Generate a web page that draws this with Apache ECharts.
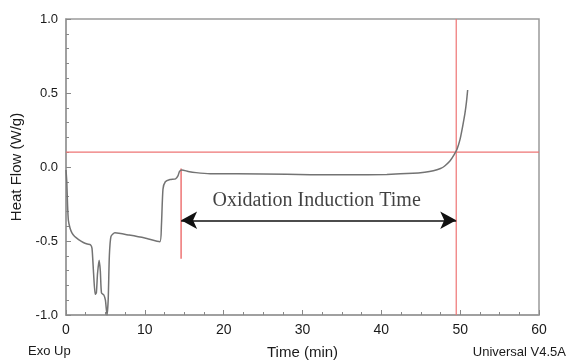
<!DOCTYPE html>
<html>
<head>
<meta charset="utf-8">
<script src="https://cdn.jsdelivr.net/npm/echarts@6/dist/echarts.min.js"></script>
<style>
  html, body { margin: 0; padding: 0; background: #fff; }
  #chart { width: 568px; height: 361px; }
</style>
</head>
<body>
<div id="chart"></div>
<script>
// DSC isothermal oxidation trace: time (min) vs heat flow (W/g)
const heatFlow = [
  [0, -0.02], [0.1, -0.1], [0.2, -0.26], [0.3, -0.36], [0.5, -0.41], [0.75, -0.445],
  [1.1, -0.47], [1.6, -0.49], [2.2, -0.51], [2.7, -0.52], [3.1, -0.525], [3.3, -0.55],
  [3.5, -0.72], [3.7, -0.86], [3.85, -0.85], [4.0, -0.72], [4.2, -0.63], [4.35, -0.7],
  [4.5, -0.85], [4.8, -0.865], [5.0, -0.9], [5.2, -1.0], [5.35, -0.9], [5.5, -0.6],
  [5.7, -0.47], [6.2, -0.445], [8, -0.46], [10, -0.48], [11.9, -0.505], [12.1, -0.4],
  [12.3, -0.15], [12.6, -0.1], [13.2, -0.085], [13.9, -0.08], [14.2, -0.06], [14.4, -0.03],
  [14.7, -0.02], [15.5, -0.03], [16.5, -0.038], [18.3, -0.045], [25, -0.047], [31, -0.052],
  [36, -0.053], [40.7, -0.05], [44, -0.043], [45.5, -0.035], [46.6, -0.025], [47.5, -0.01],
  [48, 0.005], [48.7, 0.04], [49.2, 0.08], [49.6, 0.12], [50.0, 0.19], [50.3, 0.27],
  [50.6, 0.36], [50.8, 0.44], [50.95, 0.52]
];

// Construction lines for the OIT determination
const baselineLevel = [[0, 0.1], [60, 0.1]];
const onsetLine = [[49.5, -1.0], [49.5, 1.0]];
const startLine = [[14.6, -0.01], [14.6, -0.62]];
const oitSpan = { start: 14.6, end: 49.5, level: -0.36 };
const oitLabel = { x: 31.8, y: -0.225, text: 'Oxidation Induction Time' };

const xTicks = [0, 10, 20, 30, 40, 50, 60];
const yTicks = [-1.0, -0.5, 0.0, 0.5, 1.0];

const axisColor = '#9a9a9a';
const red = '#ee7474';
const sans = 'Liberation Sans, Arial, sans-serif';

const chart = echarts.init(document.getElementById('chart'), null, { renderer: 'canvas' });

chart.setOption({
  animation: false,
  backgroundColor: '#fff',
  grid: {
    left: 66, right: 29, top: 19, bottom: 46,
    containLabel: false, outerBoundsMode: 'none',
    show: true, borderColor: axisColor, borderWidth: 1.5, backgroundColor: 'transparent'
  },
  xAxis: {
    type: 'value', min: xTicks[0], max: xTicks[xTicks.length - 1], interval: 10,
    name: 'Time (min)', nameLocation: 'middle', nameGap: 30,
    nameTextStyle: { color: '#1a1a1a', fontFamily: sans, fontSize: 15 },
    axisLine: { show: true, onZero: false, lineStyle: { color: axisColor, width: 1.5 } },
    axisTick: { show: true, inside: true, length: 5, lineStyle: { color: '#888', width: 1 } },
    minorTick: { show: true, splitNumber: 4, length: 3, lineStyle: { color: '#888', width: 1 } },
    splitLine: { show: false },
    axisLabel: { color: '#1a1a1a', fontFamily: sans, fontSize: 14, margin: 8 }
  },
  yAxis: {
    type: 'value', min: yTicks[0], max: yTicks[yTicks.length - 1], interval: 0.5,
    name: 'Heat Flow (W/g)', nameLocation: 'middle', nameGap: 40, nameRotate: 90,
    nameTextStyle: { color: '#1a1a1a', fontFamily: sans, fontSize: 15 },
    axisLine: { show: true, onZero: false, lineStyle: { color: axisColor, width: 1.5 } },
    axisTick: { show: true, inside: true, length: 5, lineStyle: { color: '#888', width: 1 } },
    minorTick: { show: true, splitNumber: 5, length: 3, lineStyle: { color: '#888', width: 1 } },
    splitLine: { show: false },
    axisLabel: {
      color: '#1a1a1a', fontFamily: sans, fontSize: 13, margin: 8,
      formatter: v => v.toFixed(1)
    }
  },
  series: [
    {
      type: 'line', data: baselineLevel, symbol: 'none', silent: true,
      lineStyle: { color: red, width: 1.2 }
    },
    {
      type: 'line', data: onsetLine, symbol: 'none', silent: true,
      lineStyle: { color: red, width: 1.2 }
    },
    {
      type: 'line', data: startLine, symbol: 'none', silent: true,
      lineStyle: { color: red, width: 1.5 }
    },
    {
      type: 'line', data: heatFlow, symbol: 'none', smooth: 0.2,
      lineStyle: { color: '#737373', width: 1.5 }
    },
    {
      type: 'scatter', symbolSize: 0, silent: true,
      data: [[oitLabel.x, oitLabel.y]],
      label: {
        show: true, position: 'inside', formatter: oitLabel.text,
        color: '#111', fontFamily: 'Liberation Serif, Times New Roman, serif', fontSize: 20
      },
      markLine: {
        silent: true, symbol: ['arrow', 'arrow'], symbolSize: [13, 16],
        label: { show: false },
        lineStyle: { color: '#111', width: 1.5, type: 'solid' },
        data: [[
          { coord: [oitSpan.start, oitSpan.level] },
          { coord: [oitSpan.end, oitSpan.level] }
        ]]
      }
    }
  ],
  graphic: [
    { type: 'text', left: 28, top: 345, style: { text: 'Exo Up', font: '13px Liberation Sans, Arial, sans-serif', fill: '#1a1a1a' } },
    { type: 'text', right: 2, top: 346, style: { text: 'Universal V4.5A', font: '13px Liberation Sans, Arial, sans-serif', fill: '#1a1a1a' } }
  ]
});
</script>
</body>
</html>
